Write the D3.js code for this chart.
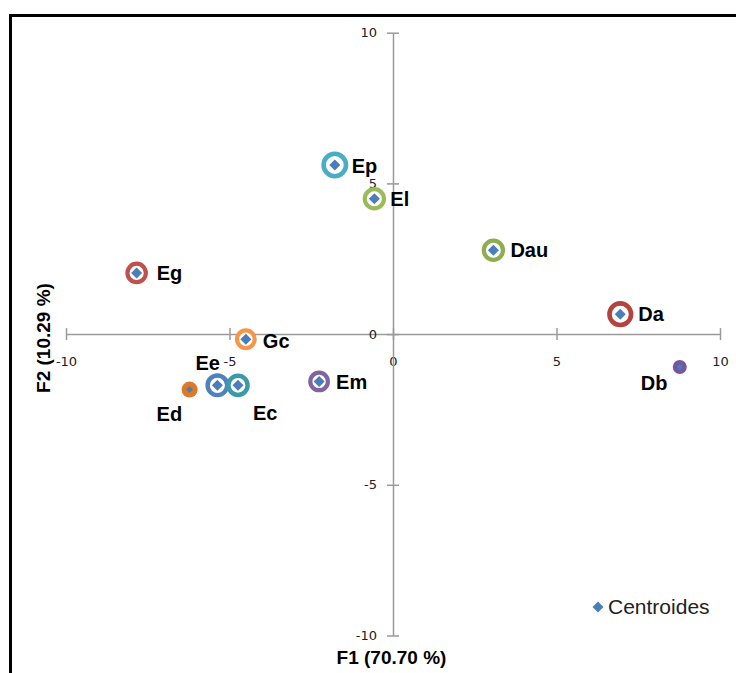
<!DOCTYPE html>
<html>
<head>
<meta charset="utf-8">
<script src="https://cdn.jsdelivr.net/npm/d3@7"></script>
<style>
  html, body { margin: 0; padding: 0; background: #fff; }
  svg { display: block; }
</style>
</head>
<body>
<svg id="chart" width="736" height="673"></svg>
<script>
// ---- data ----
const labels = ["Ep", "El", "Eg", "Dau", "Da", "Gc", "Ee", "Ec", "Ed", "Em", "Db"];
const f1Values = [-1.78, -0.57, -7.84, 3.07, 6.95, -4.5, -5.37, -4.74, -6.22, -2.26, 8.77];
const f2Values = [5.61, 4.49, 2.03, 2.78, 0.66, -0.17, -1.7, -1.7, -1.84, -1.57, -1.09];
const xTicks = [-10, -5, 0, 5, 10];
const yTicks = [-10, -5, 0, 5, 10];
const xTitle = "F1 (70.70 %)";
const yTitle = "F2 (10.29 %)";
const legendLabel = "Centroides";

// ---- styles (per point) ----
const ringColors = ["#4bacc6", "#9bbb59", "#c0504d", "#8fac4e", "#b4423f", "#f79646", "#4f81bd", "#3a9aaa", "#dc7a2c", "#8064a2", "#7357a0"];
const ringStyle = ["ring", "ring", "ring", "ring", "ring", "ring", "ring", "ring", "dot", "ring", "dot"];
const ringRadius = [11.2, 9.6, 9.2, 9.6, 10.8, 8.8, 9.8, 9.6, 8, 8.8, 7];
const ringWidth = [4.6, 4.2, 4.2, 4.2, 4.6, 4.2, 4.4, 4.4, 0, 4.2, 0];
const diamondHalf = [5.5, 5.5, 5.5, 5.5, 5.5, 5.5, 5.5, 5.5, 3.5, 5.5, 3];
// label offsets from point (dx to text start, dy to text middle)
const labelDx = [17, 16, 20, 17, 18, 17, -22, 15, -33, 17, -39];
const labelDy = [1, 0, 0, 0, 0, 2, -22, 28, 24, 1, 16];

const svg = d3.select("#chart");
const diamondColor = "#4a7ebb";
const fmt = d => String(d);

// frame
svg.append("rect")
  .attr("x", 10.5).attr("y", 15.5)
  .attr("width", 760).attr("height", 700)
  .attr("fill", "#fff").attr("stroke", "#000").attr("stroke-width", 3);

const x = d3.scaleLinear().domain([-10, 10]).range([66, 720]);
const y = d3.scaleLinear().domain([-10, 10]).range([635.5, 32.7]);

const axisColor = "#9a9a9a";
const tickFont = "'DejaVu Sans', Verdana, sans-serif";

// x axis through y=0
const xAxisG = svg.append("g")
  .attr("transform", `translate(0,${y(0)})`)
  .call(d3.axisBottom(x).tickValues(xTicks).tickSizeInner(6).tickSizeOuter(0).tickFormat(fmt));
xAxisG.select(".domain").attr("stroke", axisColor).attr("stroke-width", 1.5);
xAxisG.selectAll(".tick line").attr("stroke", axisColor).attr("stroke-width", 1.5).attr("y1", -6).attr("y2", 6);
xAxisG.selectAll(".tick text")
  .attr("y", 28).attr("dy", "0.32em")
  .attr("fill", "#222").style("font-family", tickFont).style("font-size", "13px");

// y axis through x=0
const yAxisG = svg.append("g")
  .attr("transform", `translate(${x(0)},0)`)
  .call(d3.axisLeft(y).tickValues(yTicks).tickSizeInner(6).tickSizeOuter(0).tickFormat(fmt));
yAxisG.select(".domain").attr("stroke", axisColor).attr("stroke-width", 1.5);
yAxisG.selectAll(".tick line").attr("stroke", axisColor).attr("stroke-width", 1.5).attr("x1", -6).attr("x2", 6);
yAxisG.selectAll(".tick text")
  .attr("x", -16)
  .attr("fill", "#222").style("font-family", tickFont).style("font-size", "13px");

// points
const pts = labels.map((l, i) => ({ l, i, fx: f1Values[i], fy: f2Values[i] }));
const pg = svg.append("g");
const node = pg.selectAll("g.pt").data(pts).join("g")
  .attr("class", "pt")
  .attr("transform", d => `translate(${x(d.fx)},${y(d.fy)})`);

node.append("circle")
  .attr("r", d => ringRadius[d.i])
  .attr("fill", d => ringStyle[d.i] === "dot" ? ringColors[d.i] : "#fff")
  .attr("stroke", d => ringColors[d.i])
  .attr("stroke-width", d => ringWidth[d.i]);

const diamondPath = h => `M0,${-h}L${h},0L0,${h}L${-h},0Z`;
node.append("path")
  .attr("d", d => diamondPath(diamondHalf[d.i]))
  .attr("fill", diamondColor);

// labels
svg.append("g").selectAll("text").data(pts).join("text")
  .attr("x", d => x(d.fx) + labelDx[d.i])
  .attr("y", d => y(d.fy) + labelDy[d.i])
  .attr("dy", "0.35em")
  .style("font-family", "Arial, 'Liberation Sans', sans-serif")
  .style("font-weight", "bold")
  .style("font-size", "20px")
  .attr("fill", "#000")
  .text(d => d.l);

// axis titles
svg.append("text")
  .attr("x", 391.5).attr("y", 657).attr("dy", "0.35em")
  .attr("text-anchor", "middle")
  .style("font-family", "Arial, 'Liberation Sans', sans-serif")
  .style("font-weight", "bold").style("font-size", "19px")
  .text(xTitle);

svg.append("text")
  .attr("transform", `translate(43,338) rotate(-90)`)
  .attr("dy", "0.35em")
  .attr("text-anchor", "middle")
  .style("font-family", "Arial, 'Liberation Sans', sans-serif")
  .style("font-weight", "bold").style("font-size", "19px")
  .text(yTitle);

// legend
const lg = svg.append("g").attr("transform", "translate(598,607)");
lg.append("path").attr("d", diamondPath(5.5)).attr("fill", diamondColor);
lg.append("text")
  .attr("x", 10).attr("dy", "0.35em")
  .style("font-family", "Arial, 'Liberation Sans', sans-serif")
  .style("font-size", "21px").attr("fill", "#222")
  .text(legendLabel);
</script>
</body>
</html>
